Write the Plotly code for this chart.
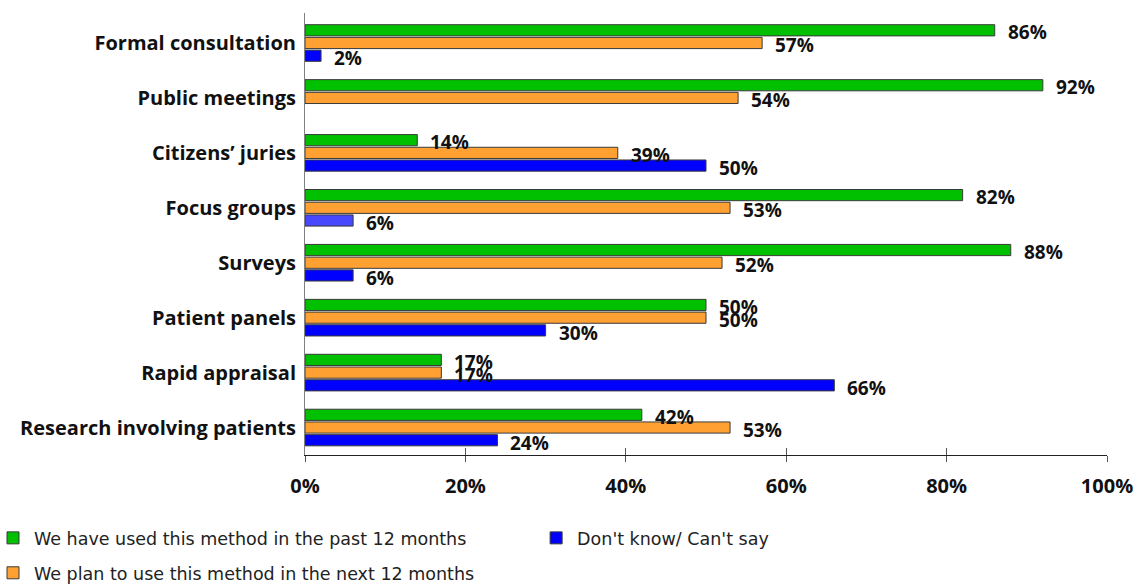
import plotly.graph_objects as go

categories = [
    "Formal consultation",
    "Public meetings",
    "Citizens\u2019 juries",
    "Focus groups",
    "Surveys",
    "Patient panels",
    "Rapid appraisal",
    "Research involving patients",
]
used_past = [86, 92, 14, 82, 88, 50, 17, 42]
plan_next = [57, 54, 39, 53, 52, 50, 17, 53]
dont_know = [2, None, 50, 6, 6, 30, 66, 24]

series_names = [
    "We have used this method in the past 12 months",
    "We plan to use this method in the next 12 months",
    "Don't know/ Can't say",
]
tick_vals = [0, 20, 40, 60, 80, 100]
tick_text = ["0%", "20%", "40%", "60%", "80%", "100%"]

GREEN = "#00C000"
ORANGE = "#FFA033"
BLUE = "#0000FF"
BLUE_LIGHT = "#4848FF"
BOLD_FONT = "Open Sans"
TEXT_FONT = "DejaVu Sans"

blue_colors = [BLUE_LIGHT if c == "Focus groups" else BLUE for c in categories]

fig = go.Figure()
series = [
    (series_names[0], used_past, GREEN, "legend"),
    (series_names[1], plan_next, ORANGE, "legend2"),
    (series_names[2], dont_know, blue_colors, "legend3"),
]
for name, vals, color, leg in series:
    fig.add_trace(go.Bar(
        name=name, y=categories, x=vals, orientation="h",
        marker=dict(color=color, line=dict(color="#3a3a3a", width=1)),
        legend=leg, hoverinfo="skip",
    ))

# helper trace so the inner half of the crossing x ticks gets drawn
fig.add_trace(go.Scatter(x=[None], y=[None], xaxis="x2", yaxis="y",
                         showlegend=False, hoverinfo="skip"))

# value labels to the right of each bar
offsets = [11, -2, -15]
for (name, vals, color, leg), dy in zip(series, offsets):
    for cat, v in zip(categories, vals):
        if v is None:
            continue
        fig.add_annotation(
            x=v, y=cat, xref="x", yref="y", text=f"{v}%", showarrow=False,
            xanchor="left", yanchor="middle", xshift=11, yshift=dy,
            font=dict(family=BOLD_FONT, size=19, color="#111111", weight="bold"),
        )

legend_style = dict(
    orientation="h", xref="container", yref="container",
    xanchor="left", yanchor="middle", indentation=-8, itemwidth=32,
    font=dict(family=TEXT_FONT, size=17.5, color="#222222"),
    itemclick=False, itemdoubleclick=False,
)

fig.update_layout(
    width=1141, height=587,
    margin=dict(l=305, r=34, t=13, b=132, autoexpand=False),
    paper_bgcolor="white", plot_bgcolor="white",
    barmode="group", bargap=0.306, bargroupgap=0.12,
    font=dict(family=BOLD_FONT, size=14, color="#111111"),
    showlegend=True,
    legend=dict(x=0.0, y=0.0835, **legend_style),
    legend3=dict(x=0.476, y=0.0835, **legend_style),
    legend2=dict(x=0.0, y=0.024, **legend_style),
    xaxis=dict(
        range=[0, 100], tickvals=tick_vals, ticktext=tick_text,
        showgrid=False, zeroline=False,
        showline=True, linecolor="#222222", linewidth=1,
        ticks="outside", ticklen=6, tickcolor="#555555",
        ticklabelstandoff=7,
        tickfont=dict(family=BOLD_FONT, size=20, color="#111111", weight="bold"),
    ),
    xaxis2=dict(
        overlaying="x", matches="x", anchor="y", side="bottom",
        range=[0, 100], tickvals=tick_vals, showticklabels=False,
        showgrid=False, zeroline=False, showline=False,
        ticks="inside", ticklen=7, tickcolor="#555555",
    ),
    yaxis=dict(
        autorange="reversed", showgrid=False, zeroline=False,
        showline=True, linecolor="#808080", linewidth=1,
        ticks="", ticklabelstandoff=4,
        tickfont=dict(family=BOLD_FONT, size=20, color="#111111", weight="bold"),
    ),
)

fig.write_html("out.html")
